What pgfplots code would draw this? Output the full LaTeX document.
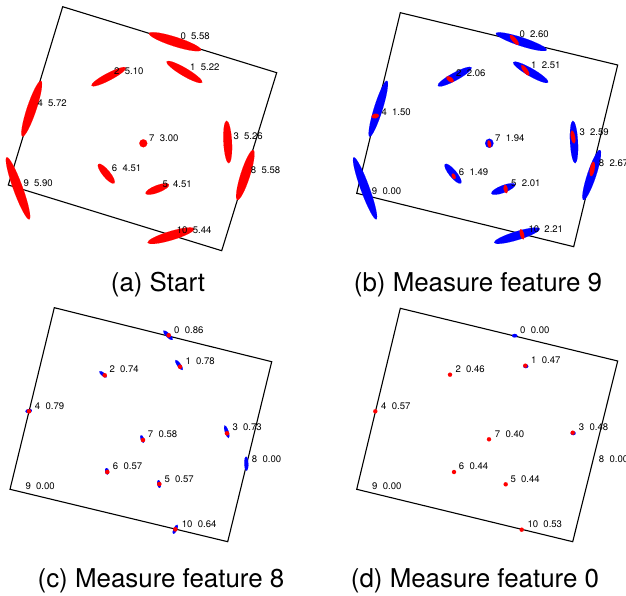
\documentclass[border=0pt]{standalone}
\usepackage{pgfplots}
\pgfplotsset{compat=1.18}
\usepackage{pgfplotstable}
\usepackage{fontspec}
\setmainfont{TeX Gyre Heros}

% ellipses: x y a(semi-major, px) b(semi-minor) t(angle deg)
\pgfplotstableread{
x y a b t
175 41.7 27.3 4.7 -17.8
184.4 72 20.7 4 -30.5
108.7 76.7 19.4 3.7 27.7
31.7 108.7 29.3 4.7 71.5
143.3 143.3 4 4 0
227.7 142 21.3 4.2 93
245.3 175 26.2 4.7 72.3
18 188.3 33 4.7 110
106.3 173.7 12.5 3.7 129.6
157.3 189 12.5 3.7 21
171 235.7 24.4 4.5 16.7
}\redA
\pgfplotstableread{
x y a b t
521.3 41.7 26.7 4.3 -18.2
530.7 72.3 20.2 3.9 -30
454.7 76.7 19.2 3.9 28.6
378.3 108.7 29.2 4.3 72.7
489.3 143.3 4.6 4.2 90
574 142 21.3 3.9 93
591.7 175 26.3 4.4 71.6
365 188.3 33 4.4 110
453 173.7 12.5 3.7 129.6
503.3 189 12.7 3.7 21
517 235.7 23.9 4.3 17
}\blueB
\pgfplotstableread{
x y a b t
514.3 40 6.7 2.1 -49
525.3 70.3 6.5 2.1 -54
450 79.3 4.3 2.3 -35
375.3 116 3.7 2.3 10
489.3 144 3.7 1.8 100
573 137 6.7 2.1 100
592.3 169 7.3 2.3 80
453.7 176.3 3 1.8 115
505.7 189 4.3 2 100
522 234.3 5.3 2 105
}\redB
\pgfplotstableread{
x y a b t
168 335.3 6.6 2 -45
179 365 6.1 1.8 -55
103 374.3 4.7 1.7 -40
28.7 411 3.3 2 10
142.3 439 4 1.7 110
226.7 431.7 6.7 1.8 108
246.3 463.7 7 2 92
107 471.3 3.3 2 100
159 484 4 1.8 100
175.3 529.3 5 1.8 65
}\blueC
\pgfplotstableread{
x y a b t
168.7 335.3 2.2 2.2 0
180 366.7 2.2 2.2 0
104.7 375.3 2.2 2.2 0
29 411.3 2.2 2.2 0
143 440 2.2 2.2 0
227 433.3 2.2 2.2 0
107.3 472 2.2 2.2 0
159.3 484 2.2 2.2 0
175.3 529.3 2.2 2.2 0
}\redC
\pgfplotstableread{
x y a b t
514.7 335.7 2.7 1.8 0
525.8 366.2 2.5 2 0
573.2 433.2 2.5 2 0
}\blueD
\pgfplotstableread{
x y a b t
525.3 365.7 2.1 2.1 0
450 374.7 2.1 2.1 0
375.3 411.3 2.1 2.1 0
489 439.3 2.1 2.1 0
572.7 432.7 2.1 2.1 0
454 472 2.1 2.1 0
505.7 484.3 2.1 2.1 0
521.7 529.7 2.1 2.1 0
}\redD

% labels: x (left edge) y (centre) label
\pgfplotstableread{
x y lab
180.3 35.7 0~~5.58
190 66.7 1~~5.22
114 71 2~~5.10
37.3 103.3 4~~5.72
149 137.7 7~~3.00
233.3 136.3 3~~5.26
250.7 170 8~~5.58
23.3 183.3 9~~5.90
111.7 168 6~~4.51
162.3 184 5~~4.51
176.7 230 10~~5.44
}\labA
\pgfplotstableread{
x y lab
519.3 34.3 0~~2.60
531 65.3 1~~2.51
456 73.3 2~~2.06
381.3 111.7 4~~1.50
495 137.7 7~~1.94
579.3 131.7 3~~2.59
598.7 163.3 8~~2.67
371.7 191 9~~0.00
458.7 171.7 6~~1.49
511 183.3 5~~2.01
528.3 229.3 10~~2.21
}\labB
\pgfplotstableread{
x y lab
174 330.3 0~~0.86
185.3 360.7 1~~0.78
109.3 369.3 2~~0.74
34.7 406 4~~0.79
147.7 434 7~~0.58
232.3 427.3 3~~0.73
251.7 459.3 8~~0.00
25.3 486 9~~0.00
112.7 466 6~~0.57
164.3 478.7 5~~0.57
181.7 524.3 10~~0.64
}\labC
\pgfplotstableread{
x y lab
520 330 0~~0.00
531 360 1~~0.47
455.3 369.3 2~~0.46
381 406 4~~0.57
494.7 433.7 7~~0.40
578.7 427 3~~0.48
598.7 459.3 8~~0.00
372 486 9~~0.00
458.7 466 6~~0.44
510.3 479 5~~0.44
527.3 524 10~~0.53
}\labD

\pgfplotsset{
  ell/.style={scatter, only marks, mark=*, mark size=1bp,
    visualization depends on={\thisrow{a} \as \ea},
    visualization depends on={\thisrow{b} \as \eb},
    visualization depends on={\thisrow{t} \as \et},
    scatter/use mapped color={draw=#1, fill=#1},
    scatter/@pre marker code/.append style={/tikz/rotate=\et,/tikz/xscale=\ea,/tikz/yscale=\eb},
    mark options={line width=0.05bp}},
  lab/.style={only marks, mark=none,
    point meta=explicit symbolic,
    nodes near coords,
    every node near coord/.style={anchor=west, inner sep=0pt, black,
      font=\fontsize{9.6}{11}\selectfont}},
  frame/.style={black, line width=1.1bp, mark=none, line join=miter}
}

\begin{document}
\begin{tikzpicture}
\useasboundingbox (0,0) rectangle (626bp,596bp);
\begin{axis}[
  at={(0,0)}, anchor=south west,
  scale only axis, width=626bp, height=596bp,
  xmin=0, xmax=626, ymin=0, ymax=596, y dir=reverse,
  hide axis, clip=false]

% frames
\addplot[frame] coordinates {(62.7,6.7) (276.7,72.7) (221.7,250.7) (8.3,185)} -- cycle;
\addplot[frame] coordinates {(400.3,12.7) (617.7,65) (573.7,246.7) (356.7,193.3)} -- cycle;
\addplot[frame] coordinates {(54.3,307.7) (271.7,361.7) (227.7,541.7) (10,489.3)} -- cycle;
\addplot[frame] coordinates {(400.3,308.3) (617.7,361) (572.7,541.7) (356.7,489.3)} -- cycle;

% ellipses
\addplot[ell=red] table[x=x,y=y] {\redA};
\addplot[ell=blue] table[x=x,y=y] {\blueB};
\addplot[ell=red] table[x=x,y=y] {\redB};
\addplot[ell=blue] table[x=x,y=y] {\blueC};
\addplot[ell=red] table[x=x,y=y] {\redC};
\addplot[ell=blue] table[x=x,y=y] {\blueD};
\addplot[ell=red] table[x=x,y=y] {\redD};

% labels
\addplot[lab] table[x=x,y=y,meta=lab] {\labA};
\addplot[lab] table[x=x,y=y,meta=lab] {\labB};
\addplot[lab] table[x=x,y=y,meta=lab] {\labC};
\addplot[lab] table[x=x,y=y,meta=lab] {\labD};

% captions
\node[anchor=base, font=\fontsize{26}{30}\selectfont, inner sep=0pt] at (axis cs:158,291) {(a) Start};
\node[anchor=base, font=\fontsize{26}{30}\selectfont, inner sep=0pt] at (axis cs:478,291) {(b) Measure feature 9};
\node[anchor=base, font=\fontsize{26}{30}\selectfont, inner sep=0pt] at (axis cs:161,587) {(c) Measure feature 8};
\node[anchor=base, font=\fontsize{26}{30}\selectfont, inner sep=0pt] at (axis cs:475,587) {(d) Measure feature 0};
\end{axis}
\end{tikzpicture}
\end{document}
